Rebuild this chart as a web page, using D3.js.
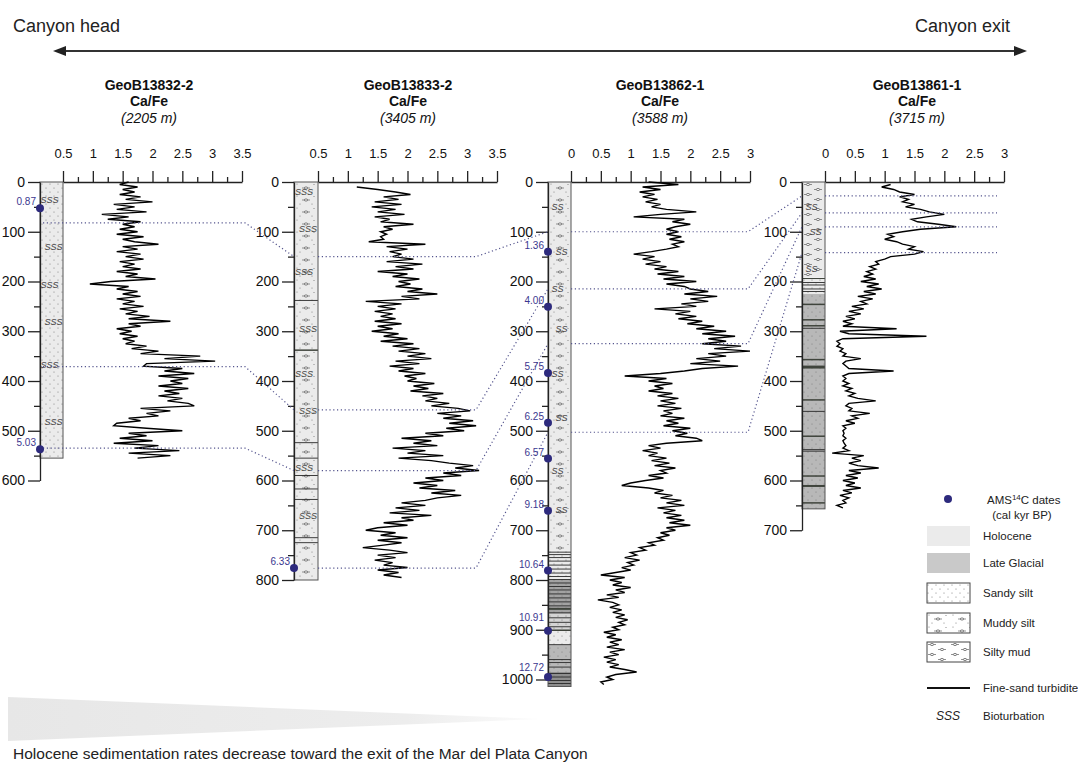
<!DOCTYPE html>
<html lang="en">
<head>
<meta charset="UTF-8">
<title>Ca/Fe records along the Mar del Plata Canyon</title>
<style>
  body { margin: 0; background: #fff; }
  svg { font-family: "Liberation Sans", Arial, sans-serif; }
</style>
</head>
<body>
<script src="https://d3js.org/d3.v7.min.js"></script>
<script>
// ---------------- data ----------------
const coreNames = ["GeoB13832-2", "GeoB13833-2", "GeoB13862-1", "GeoB13861-1"];
const waterDepths = ["(2205 m)", "(3405 m)", "(3588 m)", "(3715 m)"];
const xTicks = [
  [0.5, 1, 1.5, 2, 2.5, 3, 3.5],
  [0.5, 1, 1.5, 2, 2.5, 3, 3.5],
  [0, 0.5, 1, 1.5, 2, 2.5, 3],
  [0, 0.5, 1, 1.5, 2, 2.5, 3]
];
const depthAxisMax = [600, 800, 1000, 700];
const coreLength = [555, 800, 1014, 657];

// Ca/Fe: [depth cm, ratio]
const caFe13832 = [[0,1.6],[5,1.45],[10,1.75],[15,1.5],[20,1.7],[25,1.45],[30,1.8],[35,1.55],[40,2.0],[45,1.35],[50,1.7],[55,1.4],[60,1.9],[65,1.15],[70,1.6],[75,1.25],[80,1.8],[85,1.5],[90,1.7],[95,1.45],[100,1.75],[105,1.4],[110,1.85],[115,1.5],[120,1.7],[125,2.1],[130,1.5],[135,1.75],[140,1.4],[145,1.8],[150,1.55],[155,1.85],[160,1.45],[165,1.7],[170,1.5],[175,1.8],[180,1.4],[185,1.75],[190,1.55],[195,2.05],[200,1.3],[205,0.95],[210,1.6],[215,1.4],[220,1.75],[225,1.5],[230,1.8],[235,1.4],[240,1.7],[245,1.5],[250,1.85],[255,1.45],[260,1.75],[265,1.55],[270,1.95],[275,1.6],[280,2.3],[285,1.6],[290,1.8],[295,1.4],[300,1.65],[305,1.45],[310,1.75],[315,1.5],[320,1.7],[325,1.55],[330,1.9],[335,1.65],[340,2.1],[345,1.8],[350,2.8],[355,2.2],[360,3.05],[365,1.9],[370,1.85],[375,2.5],[380,2.2],[385,2.7],[390,2.1],[395,2.6],[400,2.3],[405,2.5],[410,2.1],[415,2.6],[420,2.2],[425,2.45],[430,2.1],[435,2.5],[440,2.25],[445,2.6],[450,2.7],[455,1.8],[460,2.3],[465,1.9],[470,2.1],[475,1.6],[480,1.8],[485,1.4],[490,1.35],[495,1.9],[500,2.5],[505,1.6],[510,1.9],[515,1.45],[520,2.0],[525,1.35],[530,2.1],[535,1.7],[540,2.45],[545,1.6],[550,2.3],[555,1.75]];

const caFe13833 = [[10,1.15],[15,1.5],[20,1.8],[25,2.05],[30,1.6],[35,1.85],[40,1.45],[45,1.9],[50,1.4],[55,1.8],[60,1.5],[65,1.95],[70,1.45],[75,1.7],[80,1.55],[85,2.1],[90,1.6],[95,1.75],[100,1.55],[105,1.65],[110,1.55],[115,1.6],[120,1.35],[125,2.3],[130,1.65],[135,2.0],[140,1.7],[145,1.9],[150,1.75],[155,2.1],[160,1.65],[165,2.25],[170,1.8],[175,2.1],[180,1.5],[185,2.0],[190,1.75],[195,2.2],[200,1.85],[205,2.05],[210,1.8],[215,2.25],[220,2.0],[225,2.5],[230,1.9],[235,2.2],[240,1.3],[245,1.9],[250,1.5],[255,1.8],[260,1.45],[265,1.75],[270,1.55],[275,1.8],[280,1.45],[285,1.9],[290,1.5],[295,1.75],[300,1.4],[305,1.85],[310,1.6],[315,2.0],[320,1.55],[325,2.1],[330,1.75],[335,2.2],[340,1.85],[345,2.3],[350,2.0],[355,2.4],[360,1.8],[365,2.2],[370,1.7],[375,2.1],[380,1.85],[385,2.3],[390,1.95],[395,2.15],[400,2.0],[405,2.45],[410,2.1],[415,2.35],[420,2.05],[425,2.6],[430,2.25],[435,2.5],[440,2.3],[445,2.7],[450,2.4],[455,2.85],[460,3.05],[465,2.5],[470,2.9],[475,2.6],[480,3.1],[485,2.7],[490,3.15],[495,2.65],[500,2.95],[505,2.3],[510,2.6],[515,1.9],[520,2.4],[525,2.1],[530,2.5],[535,1.75],[540,2.3],[545,2.0],[550,2.6],[555,1.85],[560,2.4],[565,2.7],[570,3.1],[575,2.8],[580,3.2],[585,2.6],[590,2.9],[595,2.3],[600,2.6],[605,2.1],[610,2.5],[615,2.2],[620,2.8],[625,2.4],[630,2.9],[635,2.5],[640,2.3],[645,1.9],[650,2.3],[655,1.8],[660,2.2],[665,1.7],[670,2.4],[675,1.9],[680,2.1],[685,1.6],[690,2.0],[695,1.5],[700,1.3],[705,1.8],[710,1.55],[715,2.0],[720,1.5],[725,1.9],[730,1.6],[735,1.25],[740,1.7],[745,2.0],[750,1.5],[755,1.8],[760,1.45],[765,1.75],[770,1.6],[775,2.0],[780,1.5],[785,1.85],[790,1.6],[795,1.9]];

const caFe13862 = [[0,1.3],[5,1.8],[10,1.2],[15,1.5],[20,1.15],[25,1.4],[30,1.2],[35,1.45],[40,1.25],[45,1.5],[50,1.35],[55,1.6],[60,2.1],[65,1.5],[70,1.05],[75,1.9],[80,1.7],[85,2.0],[90,1.75],[95,1.6],[100,1.8],[105,1.6],[110,1.85],[115,1.65],[120,1.9],[125,1.7],[130,1.8],[135,1.6],[140,1.35],[145,1.05],[150,1.4],[155,1.2],[160,1.5],[165,1.25],[170,1.6],[175,1.4],[180,1.8],[185,1.45],[190,1.9],[195,1.55],[200,2.1],[205,1.6],[210,1.9],[215,2.0],[220,2.3],[225,1.9],[230,2.45],[235,2.0],[240,2.3],[245,1.85],[250,2.1],[255,1.4],[260,2.0],[265,1.75],[270,2.1],[275,1.8],[280,2.2],[285,1.95],[290,2.4],[295,2.1],[300,2.6],[305,2.2],[310,2.75],[315,2.3],[320,2.6],[325,2.2],[330,2.85],[335,2.4],[340,3.0],[345,2.3],[350,2.6],[355,2.1],[360,2.5],[365,2.0],[370,2.8],[375,2.2],[380,1.9],[385,1.5],[390,0.9],[395,1.6],[400,1.3],[405,1.7],[410,1.4],[415,1.55],[420,1.3],[425,1.7],[430,1.45],[435,1.8],[440,1.5],[445,1.75],[450,1.45],[455,1.85],[460,1.55],[465,1.7],[470,1.5],[475,1.9],[480,1.6],[485,1.8],[490,1.55],[495,2.0],[500,1.7],[505,1.95],[510,1.75],[515,2.1],[520,2.2],[525,1.6],[530,1.3],[535,1.5],[540,1.2],[545,1.45],[550,1.3],[555,1.6],[560,1.35],[565,1.65],[570,1.4],[575,1.75],[580,1.5],[585,1.6],[590,1.3],[595,1.55],[600,1.25],[605,1.0],[610,0.85],[615,1.3],[620,1.55],[625,1.4],[630,1.7],[635,1.5],[640,1.85],[645,1.6],[650,1.9],[655,1.45],[660,1.75],[665,1.55],[670,1.85],[675,1.6],[680,1.9],[685,1.65],[690,2.0],[695,1.6],[700,1.75],[705,1.5],[710,1.65],[715,1.45],[720,1.55],[725,1.3],[730,1.4],[735,1.15],[740,1.25],[745,1.0],[750,1.1],[755,0.9],[760,1.15],[765,0.95],[770,1.05],[775,0.85],[780,1.0],[785,0.75],[790,0.5],[795,0.9],[800,0.65],[805,0.85],[810,0.7],[815,1.0],[820,0.75],[825,0.9],[830,0.6],[835,0.8],[840,0.45],[845,0.7],[850,0.8],[855,0.65],[860,0.85],[865,0.7],[870,0.9],[875,0.75],[880,0.95],[885,0.8],[890,0.9],[895,0.7],[900,0.8],[905,0.55],[910,0.75],[915,0.6],[920,0.85],[925,0.65],[930,0.8],[935,0.6],[940,0.9],[945,0.65],[950,0.8],[955,0.55],[960,0.75],[965,0.6],[970,0.8],[975,0.65],[980,0.9],[985,1.1],[990,0.75],[995,0.6],[1000,0.7],[1005,0.5],[1010,0.55]];

const caFe13861 = [[5,1.1],[10,0.95],[15,1.15],[20,1.25],[25,1.5],[30,1.25],[35,1.4],[40,1.3],[45,1.5],[50,1.35],[55,1.6],[60,1.75],[65,2.0],[70,1.7],[75,1.45],[80,1.55],[85,1.9],[90,2.2],[95,1.6],[100,1.3],[105,1.05],[110,1.15],[115,1.0],[120,1.2],[125,1.3],[130,1.5],[135,1.4],[140,1.65],[145,1.5],[150,1.1],[155,1.0],[160,0.85],[165,0.9],[170,0.75],[175,0.85],[180,0.7],[185,0.8],[190,0.65],[195,0.85],[200,0.6],[205,0.9],[210,0.7],[215,0.95],[220,0.65],[225,0.85],[230,0.55],[235,0.8],[240,0.6],[245,0.7],[250,0.45],[255,0.65],[260,0.4],[265,0.6],[270,0.35],[275,0.5],[280,0.3],[285,0.45],[290,0.3],[295,1.2],[300,0.25],[305,0.4],[310,1.7],[315,0.3],[320,0.2],[325,0.25],[330,0.2],[335,0.3],[340,0.25],[345,0.35],[350,0.3],[355,0.6],[360,0.35],[365,0.3],[370,0.35],[375,0.4],[380,1.15],[385,0.4],[390,0.3],[395,0.35],[400,0.3],[405,0.4],[410,0.3],[415,0.45],[420,0.35],[425,0.5],[430,0.4],[435,0.55],[440,0.85],[445,0.4],[450,0.35],[455,0.45],[460,0.4],[465,0.75],[470,0.45],[475,0.55],[480,0.35],[485,0.5],[490,0.3],[495,0.35],[500,0.3],[505,0.32],[510,0.3],[515,0.35],[520,0.3],[525,0.32],[530,0.35],[535,0.3],[540,0.4],[545,0.12],[550,0.65],[555,0.45],[560,0.6],[565,0.4],[570,0.55],[575,0.9],[580,0.4],[585,0.6],[590,0.35],[595,0.55],[600,0.3],[605,0.5],[610,0.35],[615,0.6],[620,0.3],[625,0.45],[630,0.25],[635,0.4],[640,0.3],[645,0.35],[650,0.2],[655,0.3]];
const caFeSeries = [caFe13832, caFe13833, caFe13862, caFe13861];

// lithology: [top, bottom, shade, texture]
const litho13832 = [[0, 555, "light", "sandy"]];
const litho13833 = [[0, 800, "light", "muddy"]];
const litho13862 = [[0, 741, "light", "muddy"], [741, 800, "light", "sandy"], [800, 868, "dark", "sandy"], [868, 902, "pale", "sandy"], [902, 930, "light", "sandy"], [930, 985, "mid", "sandy"], [985, 1014, "darker", "sandy"]];
const litho13861 = [[0, 192, "light", "silty"], [192, 225, "light", "sandy"], [225, 657, "mid", "sandy"]];
const lithoSeries = [litho13832, litho13833, litho13862, litho13861];

// fine-sand turbidites: [depth, thickness cm]
const turb13832 = [];
const turb13833 = [[238,1],[338,3],[524,1],[555,1],[590,1],[617,1],[638,1],[715,1],[725,1]];
const turb13862 = [[744,1],[749,1],[755,1],[762,1],[770,1],[778,1],[786,1],[793,1],[799,1.5],[806,1],[813,1],[820,1],[828,1],[836,1],[844,1],[852,1],[858,4],[866,1],[876,1],[885,1],[894,1],[901,3],[930,1.5],[960,1],[966,1],[975,1],[988,1],[995,1.5],[1002,1],[1008,1]];
const turb13861 = [[194,2],[202,1],[207,1],[215,1],[220,1],[246,3],[277,3],[289,3],[294,1.5],[357,3],[372,6],[438,3],[461,1.5],[511,3],[538,1],[541,1],[591,3],[611,4],[645,3]];
const turbSeries = [turb13832, turb13833, turb13862, turb13861];

// bioturbation marks (depth cm)
const bio13832 = [36, 130, 208, 282, 368, 482];
const bio13833 = [21, 95, 181, 295, 385, 461, 575, 671];
const bio13862 = [50, 140, 215, 295, 385, 475, 580, 660];
const bio13861 = [51, 101, 175];
const bioSeries = [bio13832, bio13833, bio13862, bio13861];
const bioGlyph = ["SSS", "SSS", "SS", "SS"];

// AMS 14C dates: [depth cm, cal kyr BP]
const dates13832 = [[53, 0.87], [537, 5.03]];
const dates13833 = [[776, 6.33]];
const dates13862 = [[140, 1.36], [251, 4.00], [384, 5.75], [484, 6.25], [556, 6.57], [661, 9.18], [781, 10.64], [902, 10.91], [995, 12.72]];
const dates13861 = [];
const dateSeries = [dates13832, dates13833, dates13862, dates13861];

// correlation tie points, depth in each core (null = none)
const tieChains = [[82, 150, 100, 28], [371, 458, 215, 62], [535, 580, 325, 90], [null, 776, 503, 142]];

// ---------------- layout ----------------
const W = 1078, H = 765;
const panels = [
  { left: 40, width: 23, titleX: 149, bend: 245, tieFrom: 43 },
  { left: 294, width: 24, titleX: 408, bend: 476, tieFrom: 318 },
  { left: 548, width: 23, titleX: 660, bend: 748, tieFrom: 571 },
  { left: 802, width: 23, titleX: 917, bend: 997, tieFrom: 825 }
];
const shadeColor = { light: "#ebebeb", pale: "#d4d4d4", mid: "#b8b8b8", dark: "#a2a2a2", darker: "#8f8f8f" };
const dotColor = "#2d2a7d";
const tieColor = "#55558e";

const y = d3.scaleLinear().domain([0, 1000]).range([182, 679.5]);

const svg = d3.select("body").append("svg").attr("width", W).attr("height", H);
const defs = svg.append("defs");

function symbol(g, cx, cy) {
  g.append("line").attr("x1", cx - 4).attr("x2", cx + 4).attr("y1", cy).attr("y2", cy)
    .attr("stroke", "#666").attr("stroke-width", 0.7);
  g.append("ellipse").attr("cx", cx).attr("cy", cy).attr("rx", 1.7).attr("ry", 1.1)
    .attr("fill", "#f4f4f4").attr("stroke", "#555").attr("stroke-width", 0.7);
}

function addPattern(id, type, tx, ty) {
  const p = defs.append("pattern").attr("id", id).attr("patternUnits", "userSpaceOnUse")
    .attr("patternTransform", `translate(${tx},${ty})`);
  if (type === "sandy") {
    p.attr("width", 8).attr("height", 8);
    [[2, 2], [6, 6]].forEach(([a, b]) => p.append("circle").attr("cx", a).attr("cy", b).attr("r", 0.55).attr("fill", "#777"));
  } else if (type === "muddy") {
    p.attr("width", 24).attr("height", 12);
    [[3, 2], [20, 2.5], [6, 10], [18, 10]].forEach(([a, b]) => p.append("circle").attr("cx", a).attr("cy", b).attr("r", 0.55).attr("fill", "#777"));
    symbol(p, 12, 6);
  } else {
    p.attr("width", 23).attr("height", 10);
    symbol(p, 6, 2.5);
    symbol(p, 16, 7.5);
  }
}

// ---------------- top arrow & header ----------------
svg.append("text").attr("x", 13).attr("y", 32).attr("font-size", 18).attr("fill", "#222").text("Canyon head");
svg.append("text").attr("x", 1010).attr("y", 32).attr("text-anchor", "end").attr("font-size", 18).attr("fill", "#222").text("Canyon exit");
svg.append("line").attr("x1", 60).attr("x2", 1020).attr("y1", 51).attr("y2", 51).attr("stroke", "#333").attr("stroke-width", 2);
svg.append("path").attr("d", "M53,51 L66,46 L66,56 Z").attr("fill", "#222");
svg.append("path").attr("d", "M1027,51 L1014,46 L1014,56 Z").attr("fill", "#222");

// ---------------- panels ----------------
panels.forEach((p, i) => {
  const g = svg.append("g");
  const x0 = p.left + p.width;
  const x = d3.scaleLinear().domain([xTicks[i][0], xTicks[i][xTicks[i].length - 1]]).range([x0, x0 + 179]);

  // titles
  const t = g.append("text").attr("text-anchor", "middle").attr("fill", "#111");
  t.append("tspan").attr("x", p.titleX).attr("y", 90).attr("font-size", 14).attr("font-weight", "bold").text(coreNames[i]);
  t.append("tspan").attr("x", p.titleX).attr("y", 106).attr("font-size", 14).attr("font-weight", "bold").text("Ca/Fe");
  t.append("tspan").attr("x", p.titleX).attr("y", 123).attr("font-size", 14).attr("font-style", "italic").text(waterDepths[i]);

  // core column
  const col = g.append("g");
  lithoSeries[i].forEach(([top, bot, shade, tex], k) => {
    const pid = `pat-${i}-${k}`;
    addPattern(pid, tex, p.left, y(0));
    col.append("rect").attr("x", p.left).attr("y", y(top)).attr("width", p.width).attr("height", y(bot) - y(top)).attr("fill", shadeColor[shade]);
    col.append("rect").attr("x", p.left).attr("y", y(top)).attr("width", p.width).attr("height", y(bot) - y(top)).attr("fill", `url(#${pid})`);
  });
  turbSeries[i].forEach(([d, th]) => {
    const h = Math.max(0.9, y(d + th) - y(d));
    col.append("rect").attr("x", p.left).attr("y", y(d) - h / 2).attr("width", p.width).attr("height", h)
      .attr("fill", th > 1.5 ? "#3f443c" : "#2a2a2a");
  });
  bioSeries[i].forEach((d, k) => {
    col.append("text").attr("x", p.left + p.width / 2 + (k % 2 ? 2 : -2)).attr("y", y(d) + 3)
      .attr("text-anchor", "middle").attr("font-size", 9).attr("font-style", "italic")
      .attr("fill", "#444").text(bioGlyph[i]);
  });
  col.append("rect").attr("x", p.left).attr("y", y(0)).attr("width", p.width).attr("height", y(coreLength[i]) - y(0))
    .attr("fill", "none").attr("stroke", "#555").attr("stroke-width", 1);

  // depth axis
  const yd = d3.scaleLinear().domain([0, depthAxisMax[i]]).range([y(0), y(depthAxisMax[i])]);
  const ya = g.append("g").attr("transform", `translate(${p.left},0)`)
    .call(d3.axisLeft(yd).tickValues(d3.range(0, depthAxisMax[i] + 1, 100)).tickSize(12).tickSizeOuter(0).tickPadding(3).tickFormat(d3.format("d")));
  g.append("g").attr("transform", `translate(${p.left},0)`)
    .call(d3.axisLeft(yd).tickValues(d3.range(50, depthAxisMax[i], 100)).tickSize(6).tickFormat(""))
    .select(".domain").remove();

  // Ca/Fe axis
  const minor = d3.range(xTicks[i][0] + 0.25, xTicks[i][xTicks[i].length - 1], 0.5);
  const xa = g.append("g").attr("transform", `translate(0,${y(0)})`)
    .call(d3.axisTop(x).tickValues(xTicks[i]).tickSize(11).tickSizeOuter(0).tickPadding(13).tickFormat(d => d));
  g.append("g").attr("transform", `translate(0,${y(0)})`)
    .call(d3.axisTop(x).tickValues(minor).tickSize(5).tickFormat(""))
    .select(".domain").remove();

  ya.attr("font-size", 14).attr("font-family", null);
  xa.attr("font-size", 13).attr("font-family", null);
  g.selectAll(".domain, .tick line").attr("stroke", "#222").attr("stroke-width", 1.3);
  g.selectAll(".tick text").attr("fill", "#111");

  // curve
  g.append("path").datum(caFeSeries[i])
    .attr("d", d3.line().x(d => x(d[1])).y(d => y(d[0])))
    .attr("fill", "none").attr("stroke", "#000").attr("stroke-width", 1.4).attr("stroke-linejoin", "miter");
});

// ---------------- tie lines ----------------
tieChains.forEach(chain => {
  let path = "";
  chain.forEach((d, i) => {
    if (d === null) return;
    const p = panels[i];
    path += `M${p.tieFrom},${y(d)}L${p.bend},${y(d)}`;
    if (i + 1 < chain.length && chain[i + 1] !== null) {
      path += `L${panels[i + 1].left},${y(chain[i + 1])}`;
    }
  });
  svg.append("path").attr("d", path).attr("fill", "none").attr("stroke", tieColor)
    .attr("stroke-width", 1.2).attr("stroke-dasharray", "1.2,2.6");
});

// ---------------- AMS dates ----------------
panels.forEach((p, i) => {
  const tickYs = d3.range(0, depthAxisMax[i] + 1, 100).map(y);
  dateSeries[i].forEach(([d, age]) => {
    const cy = y(d);
    let ly = cy - 3;
    // keep the label clear of a depth tick label just below it
    tickYs.forEach(ty => { if (ty >= ly - 6 && ty - (ly - 4) < 12) ly = ty - 9; });
    svg.append("circle").attr("cx", p.left).attr("cy", cy).attr("r", 4).attr("fill", dotColor);
    svg.append("text").attr("x", p.left - 4).attr("y", ly).attr("text-anchor", "end")
      .attr("font-size", 10).attr("fill", "#3b378f").text(age.toFixed(2));
  });
});

// ---------------- legend ----------------
const lg = svg.append("g");
const lx = 927, lw = 43, tx = 983;
lg.append("circle").attr("cx", 948).attr("cy", 499).attr("r", 4).attr("fill", dotColor);
const ams = lg.append("text").attr("x", 987).attr("y", 504).attr("font-size", 11.5).attr("fill", "#222");
ams.append("tspan").text("AMS");
ams.append("tspan").attr("font-size", 8).attr("dy", -4).text("14");
ams.append("tspan").attr("dy", 4).text("C dates");
lg.append("text").attr("x", 1022).attr("y", 519).attr("text-anchor", "middle").attr("font-size", 11.5).attr("fill", "#222").text("(cal kyr BP)");

const swatches = [
  { y: 526, fill: shadeColor.light, tex: null, label: "Holocene" },
  { y: 553, fill: "#c9c9c9", tex: null, label: "Late Glacial" },
  { y: 583, fill: "#fff", tex: "sandy", label: "Sandy silt" },
  { y: 613, fill: "#fff", tex: "muddy", label: "Muddy silt" },
  { y: 642, fill: "#fff", tex: "silty", label: "Silty mud" }
];
swatches.forEach((s, k) => {
  lg.append("rect").attr("x", lx).attr("y", s.y).attr("width", lw).attr("height", 20).attr("fill", s.fill);
  if (s.tex) {
    addPattern(`leg-${k}`, s.tex, lx - 1, s.y);
    lg.append("rect").attr("x", lx).attr("y", s.y).attr("width", lw).attr("height", 20)
      .attr("fill", `url(#leg-${k})`).attr("stroke", "#444").attr("stroke-width", 1);
  }
  lg.append("text").attr("x", tx).attr("y", s.y + 14).attr("font-size", 11.5).attr("fill", "#222").text(s.label);
});
lg.append("line").attr("x1", lx).attr("x2", lx + lw).attr("y1", 688).attr("y2", 688).attr("stroke", "#111").attr("stroke-width", 2);
lg.append("text").attr("x", tx).attr("y", 692).attr("font-size", 11.5).attr("fill", "#222").text("Fine-sand turbidite");
lg.append("text").attr("x", 948).attr("y", 720).attr("text-anchor", "middle").attr("font-size", 12).attr("font-style", "italic").attr("fill", "#222").text("SSS");
lg.append("text").attr("x", tx).attr("y", 720).attr("font-size", 11.5).attr("fill", "#222").text("Bioturbation");

// ---------------- bottom wedge & caption ----------------
const grad = defs.append("linearGradient").attr("id", "wedge").attr("x1", 0).attr("x2", 1).attr("y1", 0).attr("y2", 0);
grad.append("stop").attr("offset", 0).attr("stop-color", "#e7e7e7");
grad.append("stop").attr("offset", 0.75).attr("stop-color", "#ededed");
grad.append("stop").attr("offset", 1).attr("stop-color", "#fbfbfb");
svg.append("path").attr("d", "M8,697 L8,741 L540,719 Z").attr("fill", "url(#wedge)");
svg.append("text").attr("x", 13).attr("y", 759).attr("font-size", 15.5).attr("fill", "#222")
  .text("Holocene sedimentation rates decrease toward the exit of the Mar del Plata Canyon");
</script>
</body>
</html>
